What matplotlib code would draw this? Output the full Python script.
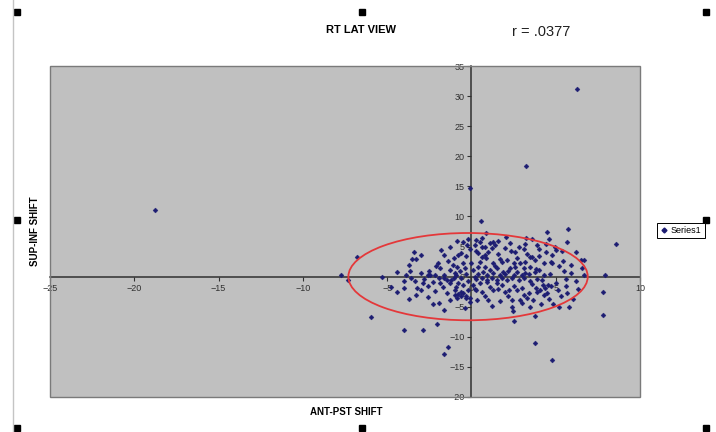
import matplotlib
matplotlib.use('Agg')
import matplotlib.pyplot as plt
from matplotlib.patches import Ellipse, Rectangle
from matplotlib.lines import Line2D
import numpy as np

plt.rcParams['font.family'] = ['Liberation Sans', 'DejaVu Sans']

# ANT-PST shift (x) / SUP-INF shift (y)
outlier_x = [-18.8, -0.1, 3.25, 6.25, 8.55, 7.9, 7.8, 7.8, -7.75, -7.3, -6.8, -5.95,
             -4.0, -2.9, -2.05, -1.4, -1.6, 3.75, 4.8, 2.55, 3.8, 0.55]
outlier_y = [11.0, 14.8, 18.4, 31.1, 5.4, 0.25, -2.5, -6.4, 0.3, -0.5, 3.3, -6.7,
             -8.9, -8.9, -7.9, -11.7, -12.8, -11.0, -13.8, -7.3, -6.5, 9.3]

left_x = [-5.3, -4.8, -4.0, -4.0, -3.7, -3.65, -3.55, -3.4, -3.3, -3.0, -3.7, -3.3,
          -3.25, -3.0, -3.35, -2.6, -2.5, -2.6, -2.45, -2.15, -2.15, -1.95, -1.85, -1.6,
          -1.3, -0.85, -0.5, -0.25, -1.05, -0.8, -0.5, -0.85, -1.25, -1.65, -0.95, -0.7,
          -1.45, -1.25, -0.95, -0.6, -0.4, -0.35, -0.1, 0.35]
left_y = [-0.1, -1.8, -0.8, -1.9, 1.9, 1.0, 2.9, 4.05, 2.9, 3.6, -3.7, -3.0,
          -1.9, -2.3, -0.8, -3.4, 1.0, 0.2, 0.25, 0.3, -2.4, -4.45, 1.4, 3.6,
          5.0, 5.9, 5.8, 5.3, 3.05, 3.6, 2.2, 1.65, 1.1, 0.3, 0.65, 1.0,
          -2.75, -3.85, -3.05, -2.6, -5.15, -3.6, -4.15, -3.9]

upper_right_x = [0.85, 2.05, 3.25, 4.5, 5.75, 5.65, 4.4, 4.95, 5.0, 3.9, 3.2, 3.1,
                 2.35, 3.3, 3.45, 3.6, 4.4, 4.7, 4.8, 5.45, 6.5, 6.65, 6.55, 5.5,
                 5.9, 4.65, 4.0, 3.85, 4.3, 2.7, 2.9, 2.6, 2.3, 2.15, 1.9, 1.8,
                 1.7, 1.5, 1.3, 1.1, 0.8, 0.7, 0.5, 0.4, 1.3, 1.1, 1.4, 1.2,
                 1.0, 0.8, 0.6, 0.3, 0.2, 0.5, 0.8, 0.85, 3.1, 3.5, 3.75, 3.2,
                 2.5, 1.7, 0.1, 0.2, 0.0]
upper_right_y = [7.25, 6.6, 6.5, 7.4, 7.9, 5.8, 5.5, 5.0, 4.5, 5.25, 5.4, 4.55,
                 4.3, 3.7, 3.2, 3.2, 4.05, 2.4, 2.3, 2.6, 2.8, 2.8, 1.5, 0.95,
                 0.55, 0.45, 1.1, 1.2, 2.2, 3.05, 2.2, 1.65, 1.5, 0.95, 0.85, 2.5,
                 2.9, 1.4, 2.2, 1.1, 1.65, 0.85, 2.5, 3.9, 5.8, 5.65, 5.25, 4.7,
                 4.15, 5.0, 5.0, 6.1, 5.25, 5.8, 3.6, 3.05, 1.4, 1.65, 0.85, 0.55,
                 0.3, 0.3, 1.1, 0.0, 2.2]

lower_right_x = [1.2, 2.4, 2.45, 3.5, 4.85, 5.2, 5.8, 6.0, 5.65, 5.6, 5.15, 4.6,
                 4.5, 0.8, 4.35, 4.55, 4.25, 4.05, 3.85, 3.65, 3.3, 2.9, 2.4, 2.15,
                 2.0, 2.2, 2.7, 3.0, 3.1, 3.4, 0.3, 0.1, 0.5, 0.9, 1.1, 1.5,
                 1.8, 1.3]
lower_right_y = [-4.8, -5.1, -5.7, -5.0, -4.6, -5.0, -5.0, -3.7, -2.75, -1.5, -2.2, -3.7,
                 -2.75, -3.3, -1.9, -1.4, -1.4, -2.2, -1.9, -3.85, -3.6, -3.85, -3.85, -3.15,
                 -2.5, -2.2, -2.2, -1.9, -3.05, -2.75, -2.2, -1.4, -1.1, -0.85, -1.65, -1.1,
                 -1.4, -2.2]

lower_left_x = [-1.85, -1.65, -1.45, -1.25, -1.05, -0.8, -0.85, -0.8, -0.6, -0.5, -0.3, -0.1]
lower_left_y = [-1.1, -0.3, -0.55, -1.1, -0.3, -1.1, -3.6, -2.9, -3.3, -2.75, -3.3, -3.6]

core_x = [0.3, 0.6, 0.9, 1.2, 1.5, 1.8, 2.1, 2.4, 2.8, 3.1, 3.5, 3.9, 4.2, 0.4, 0.9, 1.3,
          2.0, 2.7, 3.0, 3.4, 4.3, -0.3, -0.6, -0.9, -1.2, -0.2, -0.5, -0.9, -1.9, -2.3,
          -2.8, -3.0, -2.0, -1.4, -0.3, -0.1, 0.3, 0.6, 1.6, 2.0, 2.3, 1.6, 0.6, -0.2,
          2.6, 4.0, 4.8, 5.2, 5.6, 6.2, 6.7, 5.0, 4.7, 3.6, 2.5, 1.6, 0.6, 1.0, 1.7,
          3.0, 4.1, 4.3, 3.9, 0.2, -0.2, -1.0, -1.7, -2.6, -3.6, -4.4, -3.9, -2.1, -1.1,
          -0.4, 0.4, 1.4, 2.1, 2.5, 3.2, 3.8, -0.6, -1.8, -2.3, -1.6, -2.9, -4.4, 5.3,
          6.3, 5.9, 6.2, 3.6, 2.8, 4.6, 4.0, 5.4]
core_y = [-0.4, -0.2, -0.6, -0.3, -0.5, -0.2, -0.6, -0.3, -0.5, -0.2, -0.7, -0.4, -0.6, 0.5, 0.3, 0.6,
          0.4, 0.7, 0.2, 0.5, 0.3, 0.4, -0.3, 0.2, -0.5, -0.8, -1.4, -1.8, -0.3, -0.9,
          -0.4, 0.6, 2.3, 2.6, 3.4, 4.6, 4.3, 3.2, 3.7, 4.8, 5.6, 6.0, 6.5, 6.2,
          4.1, 3.4, 3.6, 1.7, -0.4, -0.8, 0.3, -1.0, -1.6, -1.2, -1.5, -2.0, -2.6, -3.8, -4.1,
          -4.4, -4.6, -3.0, -2.6, -2.0, -2.3, -2.2, -1.8, -1.6, -0.2, 0.7, 0.3, 1.8, 1.9,
          1.4, 1.6, 1.8, 2.7, 2.3, 2.5, 2.7, 4.0, 4.4, -4.6, -5.6, -1.1, -2.6, -3.2,
          -2.1, 2.0, 4.1, 6.2, 5.0, 6.3, 4.6, 4.2]

xs = np.concatenate([outlier_x, left_x, upper_right_x, lower_right_x, lower_left_x, core_x])
ys = np.concatenate([outlier_y, left_y, upper_right_y, lower_right_y, lower_left_y, core_y])

# hand-drawn ellipse around the cluster
ell_center = (-0.2, 0.0)
ell_width = 14.2
ell_height = 14.5

fig = plt.figure(figsize=(7.16, 4.32), dpi=100)
ax = fig.add_axes([50/716, 35/432, 590/716, 331/432])
ax.set_facecolor('#c0c0c0')

ax.plot(xs, ys, linestyle='none', marker='D', markersize=2.5,
        color='#1c1c72', markeredgewidth=0.3, zorder=3)

ax.add_patch(Ellipse(ell_center, ell_width, ell_height, fill=False,
                     edgecolor='#e4383a', linewidth=1.3, zorder=4))

ax.set_xlim(-25, 10)
ax.set_ylim(-20, 35)
ax.set_xticks(range(-25, 11, 5))
ax.set_yticks(range(-20, 36, 5))

ax.spines['left'].set_position(('data', 0))
ax.spines['bottom'].set_position(('data', 0))
ax.spines['top'].set_visible(False)
ax.spines['right'].set_visible(False)
for s in ['left', 'bottom']:
    ax.spines[s].set_color('#303030')
    ax.spines[s].set_linewidth(1.1)
    ax.spines[s].set_zorder(2)
ax.tick_params(direction='out', length=3, width=0.8, colors='#303030',
               labelsize=6.5, pad=2)
ax.add_patch(Rectangle((0, 0), 1, 1, transform=ax.transAxes, fill=False,
                       edgecolor='#7a7a7a', linewidth=1.0, zorder=5, clip_on=False))

fig.text(361/716, 1 - 30/432, 'RT LAT VIEW', ha='center', va='center',
         fontsize=8, fontweight='bold')
fig.text(541/716, 1 - 32/432, 'r = .0377', ha='center', va='center',
         fontsize=10.5, color='#202020')
fig.text(346/716, 1 - 412/432, 'ANT-PST SHIFT', ha='center', va='center',
         fontsize=7, fontweight='bold')
fig.text(35/716, 1 - 231/432, 'SUP-INF SHIFT', ha='center', va='center',
         fontsize=7, fontweight='bold', rotation=90)

handle = Line2D([], [], linestyle='none', marker='D', markersize=2.5, color='#1c1c72')
fig.legend([handle], ['Series1'], loc='upper left', bbox_to_anchor=(657/716, 1 - 223/432),
           bbox_transform=fig.transFigure, fontsize=6.5, fancybox=False,
           edgecolor='black', framealpha=1, borderpad=0.35, handlelength=0.8,
           handletextpad=0.4, borderaxespad=0).get_frame().set_linewidth(0.7)

# chart-area border and selection handles
fig.add_artist(Line2D([13/716, 13/716], [0, 1], color='#c4c4c4', linewidth=1.0))
for hx, hy in [(17, 12), (362, 12), (706, 12), (17, 220), (706, 220),
               (17, 428), (362, 428), (706, 428)]:
    fig.add_artist(Rectangle(((hx - 3) / 716, 1 - (hy + 3) / 432), 6 / 716, 6 / 432,
                             transform=fig.transFigure, color='black'))

fig.savefig('out.png', dpi=100)
